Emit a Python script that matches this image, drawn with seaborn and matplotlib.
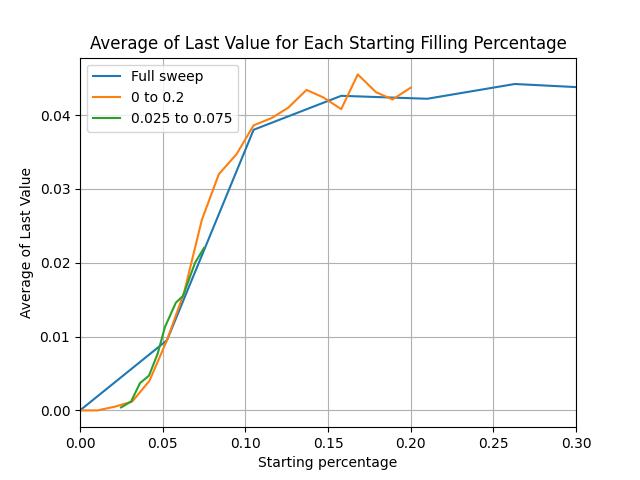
import matplotlib
matplotlib.use("Agg")
import matplotlib.pyplot as plt
import seaborn as sns

full_x = [0, 0.0526, 0.105, 0.158, 0.21, 0.263, 0.316]
full_y = [0, 0.0095, 0.038, 0.0426, 0.0422, 0.0442, 0.0436]
a_x = [0, 0.0105, 0.021, 0.0316, 0.042, 0.0526, 0.063, 0.0737, 0.084, 0.0947, 0.105,
       0.116, 0.126, 0.137, 0.147, 0.158, 0.168, 0.179, 0.189, 0.2]
a_y = [0, 0, 0.0005, 0.0012, 0.004, 0.0095, 0.016, 0.0258, 0.032, 0.0347, 0.0386,
       0.0396, 0.041, 0.0434, 0.0424, 0.0408, 0.0455, 0.0431, 0.0421, 0.0437]
b_x = [0.0248, 0.0309, 0.0363, 0.0417, 0.047, 0.0514, 0.058, 0.0623, 0.0696, 0.075]
b_y = [0.0004, 0.0012, 0.0037, 0.0047, 0.0077, 0.0113, 0.0146, 0.0155, 0.020, 0.022]

fig, ax = plt.subplots(figsize=(6.4, 4.8), dpi=100)
sns.lineplot(x=full_x, y=full_y, ax=ax, label="Full sweep", color="#1f77b4")
sns.lineplot(x=a_x, y=a_y, ax=ax, label="0 to 0.2", color="#ff7f0e")
sns.lineplot(x=b_x, y=b_y, ax=ax, label="0.025 to 0.075", color="#2ca02c")
ax.set_xlim(0, 0.30)
ax.grid(True)
ax.set_xlabel("Starting percentage")
ax.set_ylabel("Average of Last Value")
ax.set_title("Average of Last Value for Each Starting Filling Percentage")
ax.legend(loc="upper left")
fig.savefig("out.png")
